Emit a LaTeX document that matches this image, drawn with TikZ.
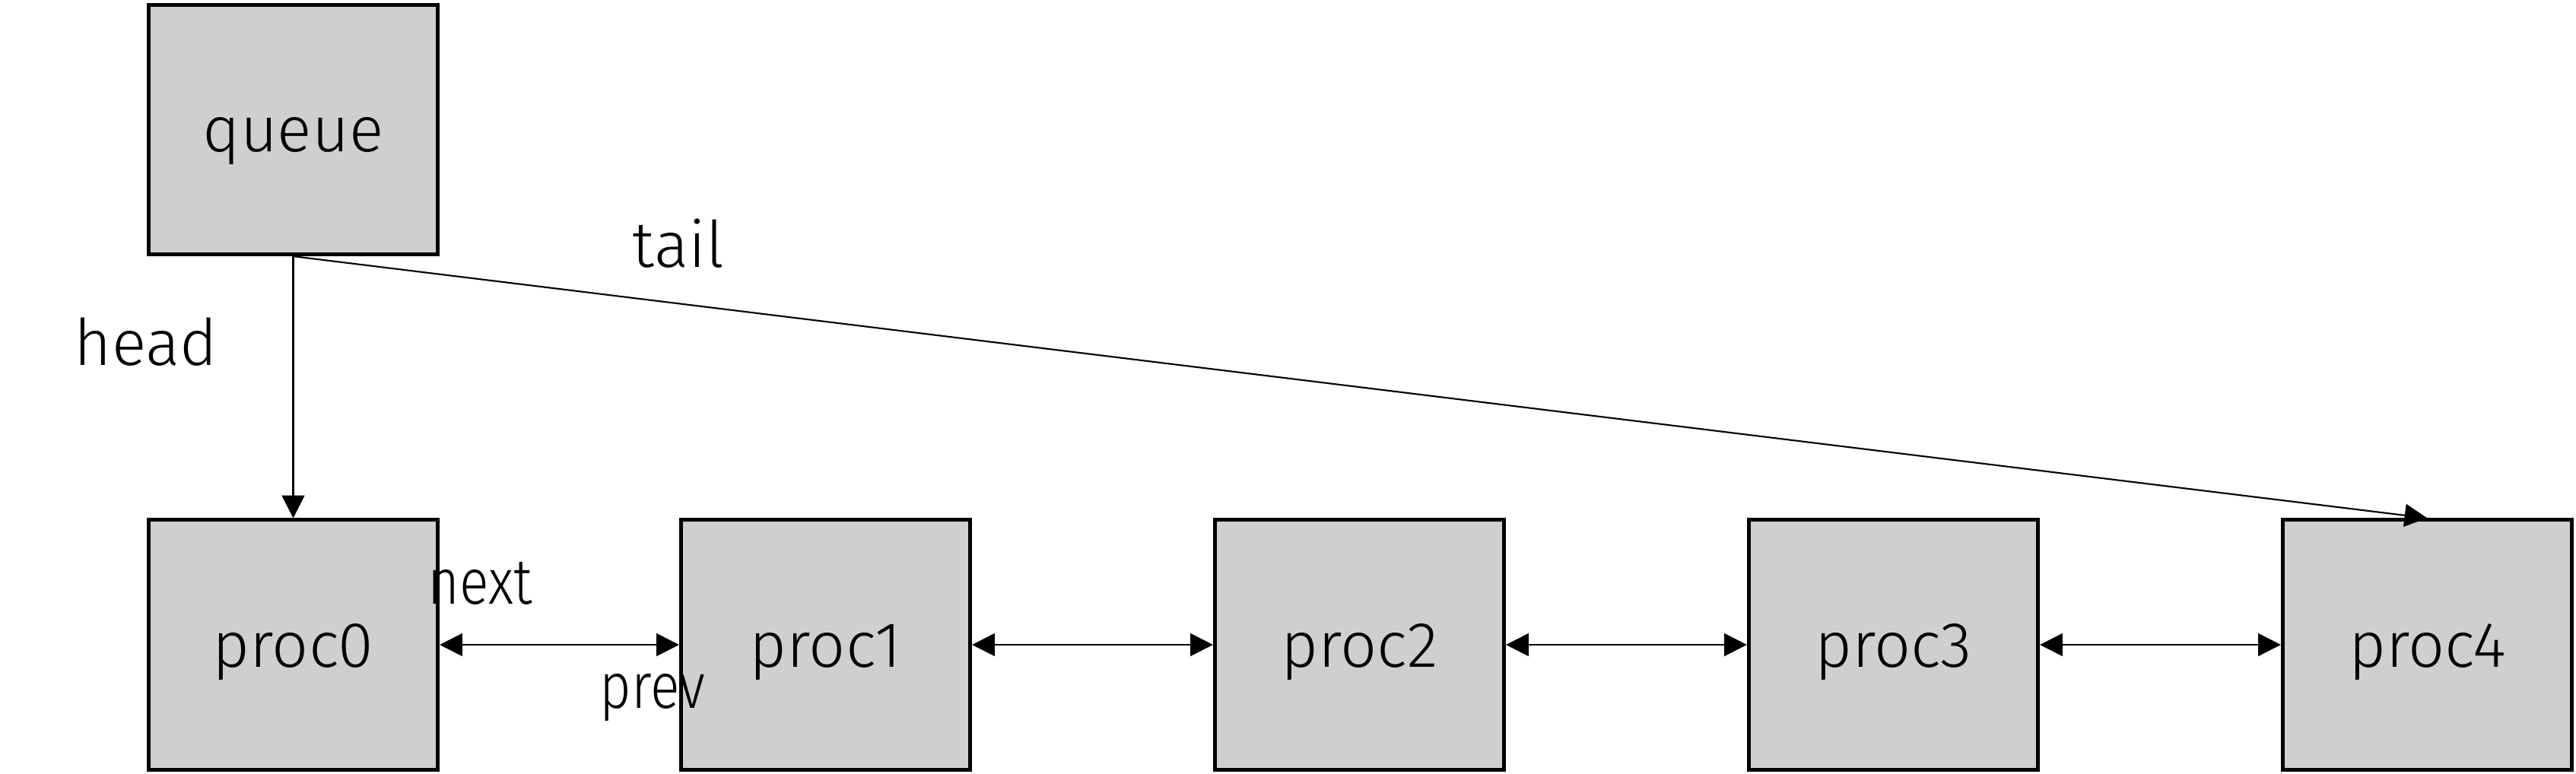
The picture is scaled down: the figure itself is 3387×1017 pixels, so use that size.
\documentclass[tikz,border=0pt]{standalone}
\usepackage{fontspec}
\setmainfont{Fira Sans Light}
\usetikzlibrary{arrows.meta}
\begin{document}
\begin{tikzpicture}[x=0.01cm,y=-0.01cm,
  box/.style={draw=black,line width=1.4pt,fill={rgb,255:red,208;green,206;blue,207},minimum width=3.8cm,minimum height=3.28cm,inner sep=0pt,text height=0.58cm,text depth=0cm,font=\fontsize{24}{29}\selectfont},
  lbl/.style={inner sep=0pt,font=\fontsize{24}{29}\selectfont},
  conn/.style={line width=0.6pt,-{Triangle[length=8.5pt,width=8.5pt]}},
  dconn/.style={line width=0.6pt,{Triangle[length=8.5pt,width=8.5pt]}-{Triangle[length=8.5pt,width=8.5pt]}}]
\useasboundingbox (0,0) rectangle (3387,1017);
\node[box] (queue) at (385.5,170.5) {queue};
\node[box] (p0) at (385.5,848) {proc0};
\node[box] (p1) at (1085.5,848) {proc1};
\node[box] (p2) at (1787.5,848) {proc2};
\node[box] (p3) at (2489.5,848) {proc3};
\node[box] (p4) at (3191.5,848) {proc4};
\draw[conn] (queue.south) -- (p0.north);
\draw[conn] (queue.south) -- (p4.north);
\draw[dconn] (p0.east) -- (p1.west);
\draw[dconn] (p1.east) -- (p2.west);
\draw[dconn] (p2.east) -- (p3.west);
\draw[dconn] (p3.east) -- (p4.west);
\node[lbl] (head) at (192,450) {head};
\node[lbl] (tail) at (892,320) {tail};
\node[lbl,xscale=0.85] (next) at (631,767) {next};
\node[lbl,xscale=0.85] (prev) at (858,918) {prev};
\end{tikzpicture}
\end{document}
